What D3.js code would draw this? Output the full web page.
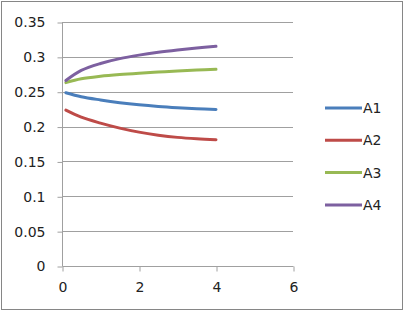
<!DOCTYPE html>
<html>
<head>
<meta charset="utf-8">
<script src="https://cdn.jsdelivr.net/npm/d3@7"></script>
<style>
  html, body { margin: 0; padding: 0; background: #fff; }
  svg text { font-family: "DejaVu Sans", sans-serif; font-size: 14px; fill: #222; }
</style>
</head>
<body>
<svg id="chart"></svg>
<script>
// values
const xs = [0.1, 0.5, 1, 1.5, 2, 2.5, 3, 3.5, 4];
const a1 = [0.2485, 0.2428, 0.2382, 0.2343, 0.2312, 0.2288, 0.2270, 0.2256, 0.2245];
const a2 = [0.2235, 0.2135, 0.2050, 0.1978, 0.1920, 0.1877, 0.1845, 0.1825, 0.1812];
const a3 = [0.263, 0.2685, 0.2722, 0.2747, 0.2766, 0.2782, 0.2797, 0.2810, 0.2822];
const a4 = [0.266, 0.2805, 0.2905, 0.2975, 0.3025, 0.3065, 0.3098, 0.3127, 0.3152];
const seriesNames = ["A1", "A2", "A3", "A4"];
const seriesColors = ["#4a7ebb", "#be4b48", "#98b954", "#7d60a0"];
const yTicks = [0, 0.05, 0.1, 0.15, 0.2, 0.25, 0.3, 0.35];
const xTicks = [0, 2, 4, 6];

const width = 404, height = 312;
const svg = d3.select("#chart")
  .attr("width", width)
  .attr("height", height);

// outer chart border
svg.append("rect")
  .attr("x", 1.5).attr("y", 1.5)
  .attr("width", 401).attr("height", 308)
  .attr("fill", "#fff")
  .attr("stroke", "#868686");

const x = d3.scaleLinear().domain([0, 6]).range([62, 293]);
const y = d3.scaleLinear().domain([0, 0.35]).range([266, 22]);

// gridlines
svg.append("g")
  .selectAll("line")
  .data(yTicks.slice(1))
  .join("line")
  .attr("x1", x(0)).attr("x2", x(6))
  .attr("y1", d => Math.round(y(d)) + 0.5)
  .attr("y2", d => Math.round(y(d)) + 0.5)
  .attr("stroke", "#a0a0a0");

const yAxis = svg.append("g")
  .attr("transform", `translate(${x(0) + 0.5},0.5)`)
  .call(d3.axisLeft(y).tickValues(yTicks).tickSize(5).tickPadding(12)
    .tickFormat(d => String(+d.toFixed(2))));
yAxis.select(".domain").attr("stroke", "#a0a0a0").attr("d", `M0,${y(0.35)}V${y(0)}`);
yAxis.selectAll(".tick line").attr("stroke", "#a0a0a0");
yAxis.selectAll("text").attr("fill", "#222").style("font-size", "14px").attr("font-family", null);

const xAxis = svg.append("g")
  .attr("transform", `translate(0.5,${y(0) + 0.5})`)
  .call(d3.axisBottom(x).tickValues(xTicks).tickSize(5).tickPadding(11)
    .tickFormat(d3.format("d")));
xAxis.select(".domain").attr("stroke", "#a0a0a0").attr("d", `M${x(0)},0H${x(6)}`);
xAxis.selectAll(".tick line").attr("stroke", "#a0a0a0");
xAxis.selectAll("text").attr("fill", "#222").style("font-size", "14px").attr("font-family", null);

const allSeries = [a1, a2, a3, a4];
const line = d3.line()
  .x((d, i) => x(xs[i]))
  .y(d => y(d))
  .curve(d3.curveCatmullRom.alpha(0.5));

svg.append("g")
  .selectAll("path")
  .data(allSeries)
  .join("path")
  .attr("d", line)
  .attr("fill", "none")
  .attr("stroke", (d, i) => seriesColors[i])
  .attr("stroke-width", 3)
  .attr("stroke-linecap", "round");

// legend
const legend = svg.append("g")
  .selectAll("g")
  .data(seriesNames)
  .join("g")
  .attr("transform", (d, i) => `translate(325,${108 + i * 32.3})`);
legend.append("line")
  .attr("x1", 0).attr("x2", 37)
  .attr("stroke", (d, i) => seriesColors[i])
  .attr("stroke-width", 3);
legend.append("text")
  .attr("x", 38).attr("dy", "0.36em")
  .text(d => d);
</script>
</body>
</html>
